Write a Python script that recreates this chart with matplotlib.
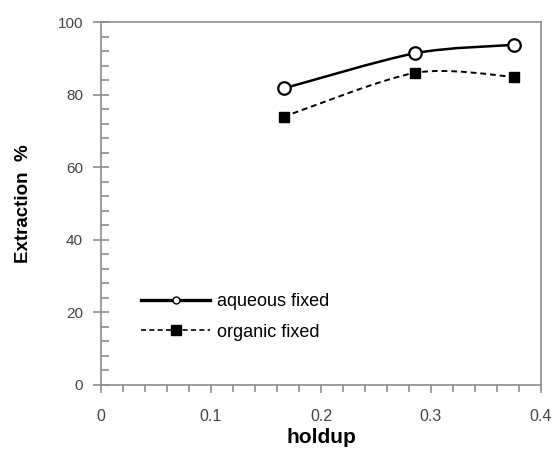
import matplotlib
matplotlib.use("Agg")
import matplotlib.pyplot as plt
from matplotlib.path import Path
from matplotlib.patches import PathPatch
from matplotlib.lines import Line2D
from matplotlib.ticker import MultipleLocator
import numpy as np

holdup = [0.166, 0.2855, 0.375]
aqueous_fixed = [81.7, 91.4, 93.7]
organic_fixed = [73.9, 86.0, 84.9]
x_ticks = [0, 0.1, 0.2, 0.3, 0.4]
x_tick_labels = ["0", "0.1", "0.2", "0.3", "0.4"]
y_ticks = [0, 20, 40, 60, 80, 100]

plt.rcParams['font.family'] = ['Liberation Sans', 'DejaVu Sans']

fig = plt.figure(figsize=(5.56, 4.54), dpi=100)
ax = fig.add_axes([101/556, 1-385/454, 440/556, 363/454])


def smooth_path(xs, ys, k=7.0):
    pts = np.column_stack([xs, ys]).astype(float)
    n = len(pts)
    verts = [pts[0]]
    codes = [Path.MOVETO]
    for i in range(n - 1):
        p0 = pts[i - 1] if i > 0 else pts[i]
        p1 = pts[i]
        p2 = pts[i + 1]
        p3 = pts[i + 2] if i + 2 < n else pts[i + 1]
        c1 = p1 + (p2 - p0) / k
        c2 = p2 - (p3 - p1) / k
        verts += [c1, c2, p2]
        codes += [Path.CURVE4] * 3
    return Path(verts, codes)


ax.add_patch(PathPatch(smooth_path(holdup, aqueous_fixed), facecolor='none',
                       edgecolor='black', lw=1.8, zorder=2))
ax.add_patch(PathPatch(smooth_path(holdup, organic_fixed), facecolor='none',
                       edgecolor='black', lw=1.4, linestyle=(0, (3, 2)), zorder=2))
ax.plot(holdup, aqueous_fixed, linestyle='none', marker='o', ms=9,
        mfc='white', mec='black', mew=1.6, zorder=3)
ax.plot(holdup, organic_fixed, linestyle='none', marker='s', ms=7.5,
        mfc='black', mec='black', zorder=3)

ax.set_xlim(0, 0.4)
ax.set_ylim(0, 100)
ax.set_xticks(x_ticks)
ax.set_xticklabels(x_tick_labels)
ax.set_yticks(y_ticks)
ax.xaxis.set_minor_locator(MultipleLocator(0.02))
ax.yaxis.set_minor_locator(MultipleLocator(4))

for s in ax.spines.values():
    s.set_color('#8c8c8c')
    s.set_linewidth(1.2)

ax.tick_params(axis='x', which='major', direction='out', length=6, width=1.2,
               color='#8c8c8c', labelsize=11.5, labelcolor='#444444', pad=11)
ax.tick_params(axis='x', which='minor', direction='out', length=5, width=1.2,
               color='#8c8c8c')
ax.tick_params(axis='y', which='major', direction='inout', length=12, width=1.2,
               color='#8c8c8c', labelsize=11, labelcolor='#444444', pad=7)
ax.tick_params(axis='y', which='minor', direction='in', length=6, width=1.2,
               color='#8c8c8c')

ax.set_xlabel('holdup', fontsize=15, fontweight='bold', labelpad=3)
ax.set_ylabel('Extraction  %', fontsize=13.5, fontweight='bold', labelpad=18)

h1 = Line2D([], [], color='black', lw=2.4, marker='o', ms=5, mfc='white',
            mec='black', mew=1.0)
h2 = Line2D([], [], color='black', lw=1.2, linestyle=(0, (3, 2)), marker='s',
            ms=7.5, mfc='black', mec='black')
ax.legend([h1, h2], ['aqueous fixed', 'organic fixed'], loc='upper left',
          bbox_to_anchor=(0.055, 0.298), frameon=False, fontsize=13,
          handlelength=3.8, handletextpad=0.4, labelspacing=0.75, numpoints=1,
          borderpad=0.4)

fig.savefig('out.png', dpi=100)
